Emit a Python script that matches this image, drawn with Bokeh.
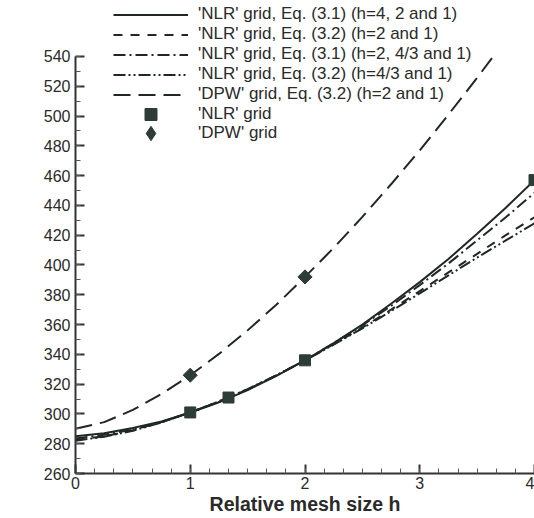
import math
from bokeh.plotting import figure
from bokeh.models import Range1d, Legend, LegendItem, Label, SingleIntervalTicker
from bokeh.embed import file_html
from bokeh.resources import INLINE

# Relative mesh size h (sampled along the fitted curves)
h_fit = [0, 0.25, 0.5, 0.75, 1, 1.25, 1.5, 1.75, 2, 2.25, 2.5, 2.75, 3, 3.25, 3.5, 3.75, 4]
nlr_31_h421 = [285, 287, 290.5, 295, 301, 307.8, 316, 325.5, 336, 347.5, 360, 374, 388.5, 404, 421, 438.5, 457]
nlr_32_h21 = [282.5, 285, 289, 294.5, 301, 308.3, 316.5, 325.8, 336, 346.8, 358, 370, 382.5, 395, 407.5, 420, 432]
nlr_31_h2431 = [283.5, 286, 289.5, 294.5, 301, 308, 316.3, 325.7, 336, 347.5, 359.5, 372.5, 386.5, 401, 416.5, 432, 448.5]
nlr_32_h431 = [282, 284.7, 288.7, 294.3, 301, 308.5, 316.7, 326, 336, 346.5, 357.5, 369, 381, 393, 405, 416.5, 428]

h_dpw_fit = [0, 0.25, 0.5, 0.75, 1, 1.25, 1.5, 1.75, 2, 2.25, 2.5, 2.75, 3, 3.25, 3.5, 3.64]
dpw_32_h21 = [290, 294.5, 302.7, 313.4, 326, 340.3, 356.1, 373.3, 392, 411.5, 432.3, 454.2, 477, 501, 525.7, 540]

# Computed grid results
nlr_h = [1, 4 / 3, 2, 4]
nlr_cd = [301, 311, 336, 457]
dpw_h = [1, 2]
dpw_cd = [326, 392]

x_ticks_major = 1
y_ticks_major = 20

LINE = "#1f2824"
MARK = "#2e3c37"
TXT = "#2a2a2a"
FONT = "Liberation Sans"

p = figure(width=534, height=518, output_backend="svg", toolbar_location=None,
           x_range=Range1d(0, 4.0), y_range=Range1d(260, 577.6),
           min_border_left=75, min_border_right=0, min_border_top=0, min_border_bottom=45)
p.outline_line_color = None
p.xgrid.visible = False
p.ygrid.visible = False

r1 = p.line(h_fit, nlr_31_h421, line_color=LINE, line_width=2)
r2 = p.line(h_fit, nlr_32_h21, line_color=LINE, line_width=2, line_dash="9 8")
r3 = p.line(h_fit, nlr_31_h2431, line_color=LINE, line_width=2, line_dash="12 4 2 4")
r4 = p.line(h_fit, nlr_32_h431, line_color=LINE, line_width=2, line_dash="12 3 2 3 2 3")
r5 = p.line(h_dpw_fit, dpw_32_h21, line_color=LINE, line_width=2, line_dash="17 8")
r6 = p.scatter(nlr_h, nlr_cd, marker="square", size=11, fill_color=MARK, line_color=MARK)
r7 = p.scatter(dpw_h, dpw_cd, marker="square", size=10, angle=math.pi / 4,
               fill_color=MARK, line_color=MARK)
# hidden twin used only as the legend key (legend keys ignore marker angle)
r7_key = p.scatter(dpw_h, dpw_cd, marker="diamond", size=14, fill_color=MARK,
                   line_color=MARK, visible=False)

for ax, tk, bnd in ((p.xaxis[0], SingleIntervalTicker(interval=x_ticks_major, num_minor_ticks=6), (0, 4)),
                    (p.yaxis[0], SingleIntervalTicker(interval=y_ticks_major, num_minor_ticks=2), (260, 540))):
    ax.ticker = tk
    ax.bounds = bnd
    ax.axis_line_width = 2
    ax.axis_line_color = "#333333"
    ax.major_tick_line_color = "#333333"
    ax.major_tick_line_width = 2
    ax.minor_tick_line_color = "#555555"
    ax.minor_tick_line_width = 1
    ax.major_tick_in = 9
    ax.major_tick_out = 0
    ax.minor_tick_in = 5
    ax.minor_tick_out = 0
    ax.major_label_text_font = FONT
    ax.major_label_text_font_size = "16px"
    ax.major_label_text_color = TXT

p.xaxis.major_label_standoff = 3
p.yaxis.major_label_standoff = 5
p.xaxis.axis_label = "Relative mesh size h"
p.xaxis.axis_label_text_font = FONT
p.xaxis.axis_label_text_font_size = "19.5px"
p.xaxis.axis_label_text_font_style = "bold"
p.xaxis.axis_label_text_color = TXT
p.xaxis.axis_label_standoff = 1

# rotated y-axis title with subscript
lab_kw = dict(angle=math.pi / 2, text_color=TXT, text_font=FONT, text_font_style="bold",
              text_baseline="middle", text_align="left")
p.add_layout(Label(x=-0.454, y=364.7, text="C", text_font_size="20px", **lab_kw))
p.add_layout(Label(x=-0.395, y=375.8, text="D", text_font_size="11px", **lab_kw))
p.add_layout(Label(x=-0.454, y=382.0, text="(counts)", text_font_size="20px", **lab_kw))


def make_legend(items, loc, gh, spacing):
    lg = Legend(items=items, location=loc)
    lg.padding = 0
    lg.margin = 0
    lg.spacing = spacing
    lg.glyph_width = 75
    lg.glyph_height = gh
    lg.label_height = 17
    lg.label_standoff = 10
    lg.label_text_font = FONT
    lg.label_text_font_size = "17px"
    lg.label_text_color = TXT
    lg.border_line_alpha = 0
    lg.background_fill_alpha = 0
    lg.inactive_fill_alpha = 0
    p.add_layout(lg)


make_legend([
    LegendItem(label="'NLR' grid, Eq. (3.1) (h=4, 2 and 1)", renderers=[r1]),
    LegendItem(label="'NLR' grid, Eq. (3.2) (h=2 and 1)", renderers=[r2]),
    LegendItem(label="'NLR' grid, Eq. (3.1) (h=2, 4/3 and 1)", renderers=[r3]),
    LegendItem(label="'NLR' grid, Eq. (3.2) (h=4/3 and 1)", renderers=[r4]),
    LegendItem(label="'DPW' grid, Eq. (3.2) (h=2 and 1)", renderers=[r5]),
], (38, 369), 17, 0)
make_legend([LegendItem(label="'NLR' grid", renderers=[r6])], (38, 344), 30, 0)
make_legend([LegendItem(label="'DPW' grid", renderers=[r7_key])], (38, 322), 36, 0)

open("out.html", "w").write(file_html(p, INLINE))
